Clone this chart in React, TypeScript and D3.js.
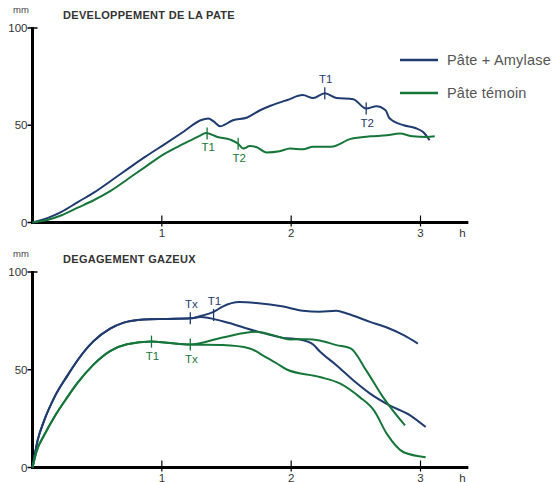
import React from "react";
import * as d3 from "d3";

// ---------- data (hours, mm) ----------
const topBlueH = [0, 0.12, 0.22, 0.35, 0.48, 0.61, 0.74, 0.87, 1.02, 1.17, 1.3, 1.36, 1.4, 1.45, 1.55, 1.66, 1.76, 1.84, 1.97, 2.09, 2.17, 2.26, 2.35, 2.48, 2.58, 2.66, 2.73, 2.76, 2.87, 2.96, 3.02, 3.07];
const topBlueV = [0, 2.4, 5.3, 10.5, 15.6, 21.6, 27.7, 33.7, 40.2, 46.8, 52.6, 53.5, 52, 49.5, 52.6, 54, 57.7, 60, 63, 65.5, 64, 66.5, 64, 63.4, 58.6, 59.8, 57.7, 53.6, 50, 48.6, 46.5, 42.3];
const topGreenH = [0, 0.12, 0.22, 0.35, 0.48, 0.61, 0.74, 0.87, 1.02, 1.17, 1.3, 1.34, 1.43, 1.53, 1.59, 1.63, 1.68, 1.73, 1.81, 1.91, 1.99, 2.09, 2.17, 2.31, 2.46, 2.61, 2.74, 2.84, 2.94, 3.05, 3.11];
const topGreenV = [0, 1.4, 3.6, 7.6, 11.7, 16.5, 22.5, 28.5, 35.3, 40.5, 44.8, 46, 44, 42.6, 40.5, 38, 39.3, 38.8, 36, 36.6, 38, 37.6, 39, 39, 43, 44.3, 44.8, 45.7, 44.3, 44, 44.3];

const gasBlueStartH = [0, 0.04, 0.09, 0.17, 0.27, 0.35, 0.47, 0.6, 0.7, 0.86, 1.04, 1.22];
const gasBlueStartV = [0, 14, 24, 36, 47, 55, 64.5, 71, 74, 75.7, 76, 76.3];
const gasBlueUpperH = [1.3, 1.4, 1.47, 1.6, 1.73, 1.94, 2.09, 2.22, 2.35, 2.43, 2.61, 2.74, 2.87, 2.98];
const gasBlueUpperV = [77.5, 79.6, 82.3, 84.6, 84.1, 82.3, 80.2, 79.7, 80.2, 78.8, 74.5, 71.6, 67.7, 63.4];
const gasBlueLowerH = [1.3, 1.47, 1.73, 1.94, 2.07, 2.17, 2.22, 2.35, 2.48, 2.61, 2.76, 2.92, 3.04];
const gasBlueLowerV = [77, 74.8, 69.7, 66.3, 65.5, 62.9, 59.5, 52.3, 44.6, 37.8, 31.8, 26.7, 20.7];

const gasGreenStartH = [0, 0.03, 0.09, 0.17, 0.27, 0.345, 0.47, 0.6, 0.73, 0.92, 1.04, 1.22];
const gasGreenStartV = [0, 8, 16.5, 26, 36, 43, 52.5, 59.5, 63, 64.4, 63.8, 62.9];
const gasGreenUpperH = [1.47, 1.73, 1.86, 1.99, 2.12, 2.22, 2.35, 2.46, 2.58, 2.71, 2.88];
const gasGreenUpperV = [66.5, 69.4, 67.7, 65.5, 65.6, 65, 62.6, 60.9, 49.7, 36, 21.5];
const gasGreenLowerH = [1.47, 1.68, 1.78, 1.89, 1.97, 2.22, 2.38, 2.53, 2.64, 2.74, 2.87, 3.04];
const gasGreenLowerV = [62.6, 60.9, 57.4, 53.2, 50, 46.3, 42.9, 36, 29.2, 17.2, 7.8, 5.3];

const xTicks = [1, 2, 3];
const yTicks = [0, 50, 100];
const legendLabels = ["Pâte + Amylase", "Pâte témoin"];

// markers on the curves
const topMarkers = [
  { s: "blue", h: 2.26, v: 66.5, label: "T1", pos: "above" },
  { s: "blue", h: 2.58, v: 58.6, label: "T2", pos: "below" },
  { s: "green", h: 1.35, v: 45.8, label: "T1", pos: "below" },
  { s: "green", h: 1.59, v: 40.5, label: "T2", pos: "below" },
];
const gasMarkers = [
  { s: "blue", h: 1.22, v: 76.3, label: "Tx", pos: "above" },
  { s: "blue", h: 1.4, v: 78, label: "T1", pos: "above" },
  { s: "green", h: 0.92, v: 64.4, label: "T1", pos: "below" },
  { s: "green", h: 1.22, v: 62.9, label: "Tx", pos: "below" },
];

const BLUE = "#1f3b6f";
const GREEN = "#16763a";
const FONT = "'Liberation Sans', Arial, Helvetica, sans-serif";

const zip = (h: number[], v: number[]) => h.map((x, i) => [x, v[i]] as [number, number]);

function Panel({ top, bottom, title, titleY, series, markers }: any) {
  const x = d3.scaleLinear().domain([0, 3]).range([32.5, 420.5]);
  const y = d3.scaleLinear().domain([0, 100]).range([bottom, top]);
  const line = d3
    .line<[number, number]>()
    .x((d) => x(d[0]))
    .y((d) => y(d[1]))
    .curve(d3.curveMonotoneX);
  const axisEnd = x(3.37);
  return (
    <g>
      <text x={13} y={top - 15} fontSize={9.5} fill="#444" fontFamily={FONT}>mm</text>
      <text x={63} y={titleY} fontSize={11} letterSpacing={0.3} fontWeight="bold" fill="#333" fontFamily={FONT}>{title}</text>
      <line x1={x(0)} x2={x(0)} y1={y(100) - 1} y2={y(0) + 1.5} stroke="#000" strokeWidth={3} />
      <line x1={x(0) - 1.5} x2={axisEnd} y1={y(0)} y2={y(0)} stroke="#000" strokeWidth={3} />
      {yTicks.map((t) => (
        <g key={t}>
          <line x1={x(0) - 5} x2={t === 100 ? x(0) + 5 : x(0)} y1={y(t)} y2={y(t)} stroke="#000" strokeWidth={1.5} />
          <text x={x(0) - 5} y={y(t) + 4} textAnchor="end" fontSize={11.5} fill="#333" fontFamily={FONT}>{t}</text>
        </g>
      ))}
      {xTicks.map((t) => (
        <g key={t}>
          <line x1={x(t)} x2={x(t)} y1={y(0) - 7} y2={y(0) + 4} stroke="#000" strokeWidth={1.2} />
          <text x={x(t)} y={y(0) + 14} textAnchor="middle" fontSize={11.5} fill="#333" fontFamily={FONT}>{t}</text>
        </g>
      ))}
      <text x={axisEnd - 6} y={y(0) + 14} textAnchor="middle" fontSize={11.5} fill="#333" fontFamily={FONT}>h</text>
      {series.map((s: any, i: number) => (
        <path key={i} d={line(s.pts) || ""} fill="none" stroke={s.color} strokeWidth={2} strokeLinejoin="round" />
      ))}
      {markers.map((m: any, i: number) => {
        const c = m.s === "blue" ? BLUE : GREEN;
        const px = x(m.h);
        const py = y(m.v);
        return (
          <g key={i}>
            <line x1={px} x2={px} y1={py - 6} y2={py + 6} stroke={c} strokeWidth={1.3} />
            <text x={px + 1} y={m.pos === "above" ? py - 10 : py + 18} textAnchor="middle" fontSize={11.5} fill={c} fontFamily={FONT}>{m.label}</text>
          </g>
        );
      })}
    </g>
  );
}

export default function App() {
  const topSeries = [
    { color: BLUE, pts: zip(topBlueH, topBlueV) },
    { color: GREEN, pts: zip(topGreenH, topGreenV) },
  ];
  const gasSeries = [
    { color: BLUE, pts: zip(gasBlueStartH.concat(gasBlueUpperH), gasBlueStartV.concat(gasBlueUpperV)) },
    { color: BLUE, pts: zip(gasBlueStartH.concat(gasBlueLowerH), gasBlueStartV.concat(gasBlueLowerV)) },
    { color: GREEN, pts: zip(gasGreenStartH.concat(gasGreenUpperH), gasGreenStartV.concat(gasGreenUpperV)) },
    { color: GREEN, pts: zip(gasGreenStartH.concat(gasGreenLowerH), gasGreenStartV.concat(gasGreenLowerV)) },
  ];
  return (
    <svg width={557} height={482} style={{ position: "absolute", left: 0, top: 0, background: "#fff" }}>
      <Panel top={28} bottom={222.5} title="DEVELOPPEMENT DE LA PATE" titleY={19} series={topSeries} markers={topMarkers} />
      <Panel top={272} bottom={467.5} title="DEGAGEMENT GAZEUX" titleY={263} series={gasSeries} markers={gasMarkers} />
      {legendLabels.map((l, i) => (
        <g key={l}>
          <line x1={400} x2={438} y1={60 + i * 33} y2={60 + i * 33} stroke={i === 0 ? BLUE : GREEN} strokeWidth={2.5} />
          <text x={447} y={65 + i * 33} fontSize={14.5} letterSpacing={0.2} fill="#555" fontFamily={FONT}>{l}</text>
        </g>
      ))}
    </svg>
  );
}
